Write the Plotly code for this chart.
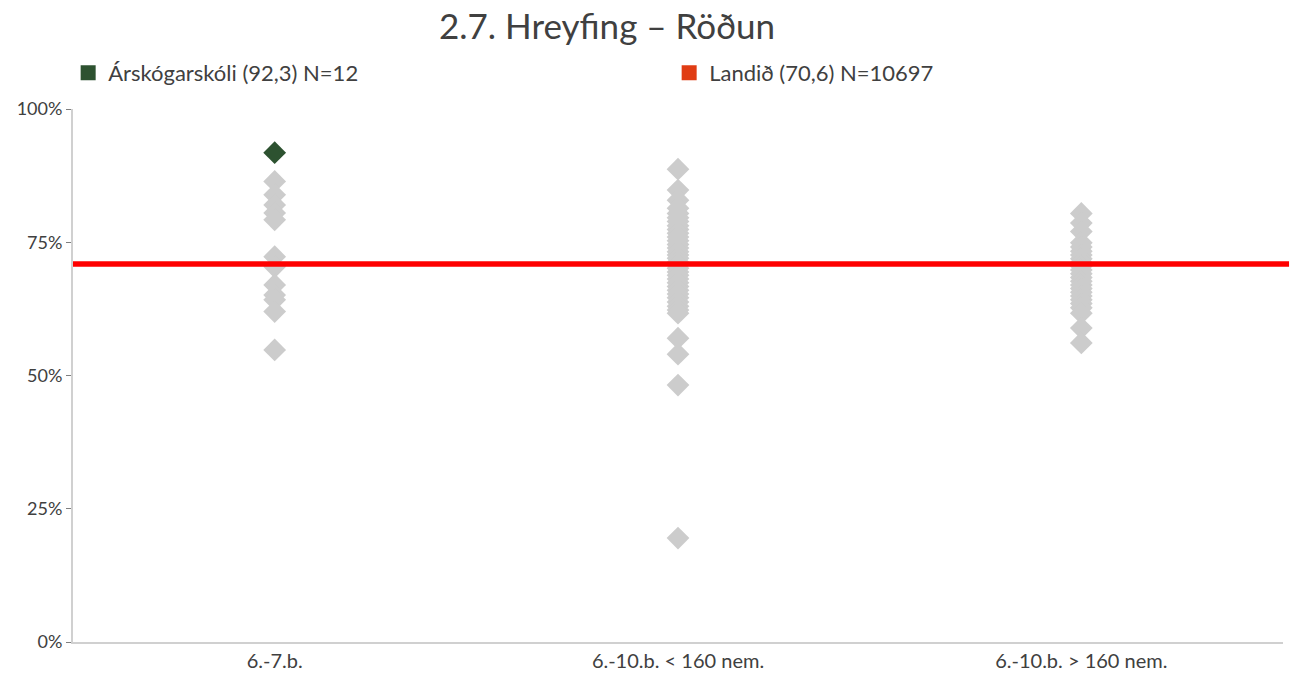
import plotly.graph_objects as go

categories = ["6.-7.b.", "6.-10.b. < 160 nem.", "6.-10.b. > 160 nem."]

group1_values = [86.4, 83.9, 82.0, 80.5, 79.2, 72.3, 70.4, 67.0, 65.1, 64.2, 62.0, 54.8]
group2_values = [88.7, 84.8, 82.9, 81.4, 80.4, 79.6, 78.9, 78.1, 77.4, 76.7, 76.0, 75.3,
                 74.6, 73.9, 73.2, 72.6, 72.0, 71.3, 70.7, 70.1, 69.4, 68.8, 68.1, 67.4,
                 66.7, 66.0, 65.3, 64.6, 63.8, 63.0, 62.3, 61.7, 57.0, 54.0, 48.2, 19.5]
group3_values = [80.4, 78.6, 77.0, 74.9, 74.1, 73.3, 72.6, 71.9, 71.2, 70.5, 69.8, 69.1,
                 68.4, 67.7, 67.0, 66.3, 65.6, 64.9, 64.2, 63.5, 62.7, 61.7, 58.9, 56.1]

school_name = "Árskógarskóli (92,3) N=12"
school_category = "6.-7.b."
school_value = 91.8

national_name = "Landið (70,6) N=10697"
national_value = 70.9

title_text = "2.7. Hreyfing – Röðun"
ytick_vals = [0, 25, 50, 75, 100]
ytick_text = ["0%", "25%", "50%", "75%", "100%"]

FONT = "Lato"
TXT = "#404040"
GRAY = "#cccccc"
GREEN = "#2d5230"
LEG_RED = "#e03c14"

fig = go.Figure()

groups = [group1_values, group2_values, group3_values]
for cat, vals in zip(categories, groups):
    fig.add_trace(go.Scatter(
        x=[cat] * len(vals), y=vals, mode="markers",
        marker=dict(symbol="diamond", size=17.5, color=GRAY, line=dict(width=0)),
        showlegend=False, hoverinfo="y"))

fig.add_trace(go.Scatter(
    x=[school_category], y=[school_value], mode="markers",
    marker=dict(symbol="diamond", size=17.5, color=GREEN, line=dict(width=0)),
    showlegend=False, name=school_name))

# legend entries
fig.add_trace(go.Scatter(
    x=[None], y=[None], mode="markers", name=school_name,
    marker=dict(symbol="square", size=15, color=GREEN)))
fig.add_trace(go.Scatter(
    x=[None], y=[None], mode="markers", name=national_name,
    marker=dict(symbol="square", size=15, color=LEG_RED)))

fig.add_hline(y=national_value, x0=0, x1=1.005,
              line=dict(color="#ff0000", width=5.5), layer="above")

fig.update_layout(
    width=1295, height=673,
    margin=dict(l=73, r=12, t=109, b=31, autoexpand=False),
    paper_bgcolor="white", plot_bgcolor="white",
    font=dict(family=FONT, color=TXT, size=18),
    title=dict(text=title_text, x=607 / 1295, xanchor="center",
               y=1 - 27 / 673, yanchor="middle",
               font=dict(family=FONT, size=35, color=TXT)),
    legend=dict(orientation="h", x=-0.004, xanchor="left",
                y=1 + (109 - 73) / 533, yanchor="middle",
                entrywidth=556, entrywidthmode="pixels",
                font=dict(family=FONT, size=22, color=TXT),
                bgcolor="rgba(0,0,0,0)"),
    xaxis=dict(type="category", categoryorder="array", categoryarray=categories,
               range=[-0.5, 2.5], showgrid=False, zeroline=False, automargin=False,
               showline=True, linecolor="#d0d0d0", linewidth=2,
               ticks="", tickfont=dict(family=FONT, size=20, color=TXT)),
    yaxis=dict(range=[0, 100], tickvals=ytick_vals, ticktext=ytick_text,
               showgrid=False, zeroline=False, showline=True, automargin=False,
               linecolor="#d0d0d0", linewidth=2,
               ticks="outside", ticklen=5, tickcolor="#7f7f7f", tickwidth=1,
               tickfont=dict(family=FONT, size=18, color=TXT)),
    showlegend=True,
)

fig.write_html("out.html", config={"displayModeBar": False},
               post_script="document.body.style.margin='0px';document.body.style.overflow='hidden';")
